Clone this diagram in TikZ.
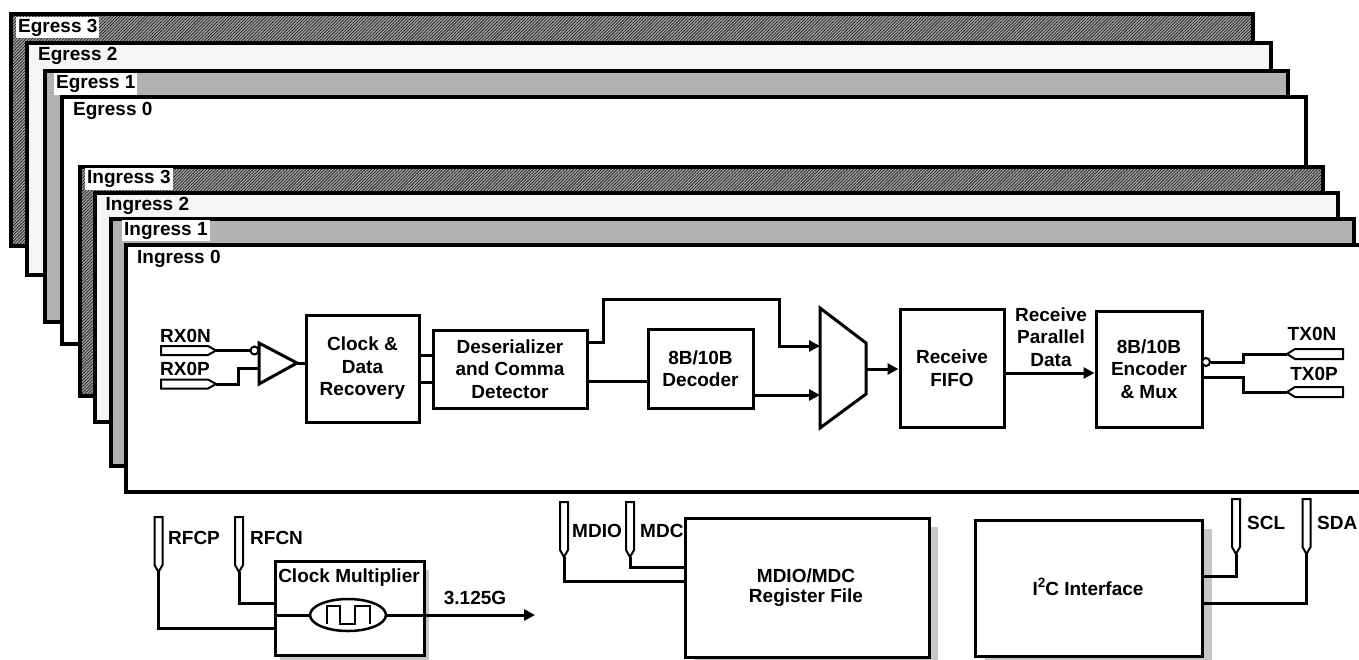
\documentclass[tikz,border=0pt]{standalone}
\usepackage{fontspec}
\setmainfont{Liberation Sans}
\usetikzlibrary{arrows.meta,patterns.meta,shapes.geometric,calc}
\begin{document}
\begin{tikzpicture}[x=1pt,y=-1pt,
  frame/.style={draw=black,line width=3.5pt},
  hatch/.style={pattern={Lines[angle=45,distance=2.2pt,line width=0.8pt]},pattern color=black!85},
  flab/.style={anchor=west,inner sep=2pt,font=\bfseries\fontsize{19}{22}\selectfont},
  txt/.style={font=\bfseries\fontsize{19}{22.5}\selectfont,align=center,inner sep=0pt},
  blk/.style={draw,line width=3pt,fill=white,font=\bfseries\fontsize{19}{22.5}\selectfont,align=center,inner sep=0pt},
  wire/.style={line width=3pt},
  arr/.style={line width=3pt,-{Triangle[length=11pt,width=11pt]}},
  pin/.style={draw,line width=2pt,fill=white},
  bub/.style={circle,draw,line width=2pt,fill=white,minimum size=8pt,inner sep=0pt},
  shadowbox/.style={fill=black!22},
  vpin/.pic={\draw[pin] (-4,0) -- (4,0) -- (4,48) -- (0,55) -- (-4,48) -- cycle; \coordinate (-tip) at (0,55);}
]
\useasboundingbox (0,0) rectangle (1359,659);

% ---------- stacked frames ----------
% Egress 3
\fill[black!35] (11,14) rectangle (1253,246);
\path[hatch] (11,14) rectangle (1253,246);
\draw[frame] (11,14) rectangle (1253,246);
\node[flab,fill=white] (e3) at (16,27.5) {Egress 3};
% Egress 2
\draw[frame,fill=black!4] (27,43) rectangle (1271,275);
\node[flab] (e2) at (36,55.5) {Egress 2};
% Egress 1
\draw[frame,fill=black!30] (45,71) rectangle (1288,322);
\node[flab,fill=white] (e1) at (54,84) {Egress 1};
% Egress 0
\draw[frame,fill=white] (62,97) rectangle (1306,344);
\node[flab] (e0) at (71,110.5) {Egress 0};
% Ingress 3
\fill[black!35] (80,167) rectangle (1323,396);
\path[hatch] (80,167) rectangle (1323,396);
\draw[frame] (80,167) rectangle (1323,396);
\node[flab,fill=white] (i3) at (85,179) {Ingress 3};
% Ingress 2
\draw[frame,fill=black!4] (95,193) rectangle (1338,422);
\node[flab] (i2) at (103.5,205.5) {Ingress 2};
% Ingress 1
\draw[frame,fill=black!30] (111,219) rectangle (1354,466);
\node[flab,fill=white] (i1) at (122,230.5) {Ingress 1};
% Ingress 0
\draw[frame,fill=white] (126,245) rectangle (1366,492);
\node[flab] (i0) at (135,259) {Ingress 0};

% ---------- receive path ----------
\coordinate (rxn) at (216,350.5);
\coordinate (rxp) at (216,384);
\coordinate (ampo) at (297,363);
\coordinate (ampp) at (259,368);
\coordinate (muxa) at (820,346);
\coordinate (muxb) at (820,395);
\coordinate (muxo) at (866,369);
\coordinate (txn) at (1287,354);
\coordinate (txp) at (1287,392);

\draw[pin] (161,346) -- (208,346) -- (216,350.5) -- (208,355) -- (161,355) -- cycle;
\draw[pin] (161,379.5) -- (208,379.5) -- (216,384) -- (208,388.5) -- (161,388.5) -- cycle;
\node[txt,anchor=west] (rxnl) at (160,336) {RX0N};
\node[txt,anchor=west] (rxpl) at (160,368.5) {RX0P};

\draw[line width=3pt,fill=white,line join=miter] (259,343) -- (297,363) -- (259,384) -- cycle;
\node[bub] (bubn) at (254.5,350.5) {};

\node[blk,minimum width=113pt,minimum height=107pt] (cdr) at (362.5,368.5) {Clock \&\\Data\\Recovery};
\node[blk,minimum width=154pt,minimum height=78pt] (des) at (510,369) {Deserializer\\and Comma\\Detector};
\node[blk,minimum width=105pt,minimum height=79pt] (dec) at (700.5,368.5) {8B/10B\\Decoder};
\draw[line width=3pt,fill=white] (820,308) -- (866,343) -- (866,394) -- (820,428) -- cycle;
\node[blk,minimum width=104pt,minimum height=118pt] (fifo) at (952,368) {Receive\\FIFO};
\node[blk,minimum width=106pt,minimum height=116pt] (enc) at (1149,369) {8B/10B\\Encoder\\\& Mux};
\node[txt] (rpd) at (1051,337) {Receive\\Parallel\\Data};
\node[bub] (bubt) at (1206,362) {};

\draw[pin] (1287,354) -- (1295,349) -- (1343,349) -- (1343,359) -- (1295,359) -- cycle;
\draw[pin] (1287,392) -- (1295,387) -- (1343,387) -- (1343,397) -- (1295,397) -- cycle;
\node[txt] (txnl) at (1312,334) {TX0N};
\node[txt] (txpl) at (1314,373.5) {TX0P};

\draw[wire] (rxn) -- (bubn.west);
\draw[wire] (rxp) -- ++(22,0) |- (ampp);
\draw[wire] (ampo) -- (ampo -| cdr.west);
\draw[wire] (cdr.east |- 0,355) -- (des.west |- 0,355);
\draw[wire] (cdr.east |- 0,382) -- (des.west |- 0,382);
\draw[arr] (des.east |- 0,342) -- ++(15,0) |- (779,299) |- (muxa);
\draw[wire] (des.east |- 0,381) -- (dec.west |- 0,381);
\draw[arr] (dec.east |- 0,395) -- (muxb);
\draw[arr] (muxo) -- (muxo -| fifo.west);
\draw[arr] (fifo.east |- 0,373) -- (enc.west |- 0,373);
\draw[wire] (bubt.east) -- (1243,362) |- (txn);
\draw[wire] (enc.east |- 0,377) -- (1243,377) |- (txp);

% ---------- clock multiplier ----------
\fill[shadowbox] (280,570) rectangle (429,664);
\node[blk,minimum width=149pt,minimum height=94pt] (cm) at (349.5,608) {};
\node[txt] (cmt) at (349,577.5) {Clock Multiplier};
\node[ellipse,draw,line width=2.5pt,fill=white,minimum width=76pt,minimum height=32pt,inner sep=0pt] (osc) at (348,615) {};
\draw[line width=2.5pt] (327,624) -- (327,606) -- (340,606) -- (340,624) -- (355,624) -- (355,606) -- (370,606) -- (370,624);
\coordinate (clk) at (535,615);
\node[txt] (clkl) at (475,598) {3.125G};
\draw[wire] (cm.west |- osc) -- (osc.west);
\draw[arr] (osc.east) -- (clk);

\pic (rfcp) at (158.5,517) {vpin};
\pic (rfcn) at (239,517) {vpin};
\node[txt,anchor=west] (rfcpl) at (168,538) {RFCP};
\node[txt,anchor=west] (rfcnl) at (250,538) {RFCN};
\draw[wire] (rfcp-tip) |- (cm.west |- 0,628);
\draw[wire] (rfcn-tip) |- (cm.west |- 0,603);

% ---------- MDIO ----------
\fill[shadowbox] (694,527) rectangle (938,666);
\node[blk,minimum width=244pt,minimum height=139pt] (mdio) at (807,587.5) {};
\node[txt,font=\bfseries\fontsize{19}{20}\selectfont] (mdiot) at (806,588) {MDIO/MDC\\Register File};
\pic (pmdio) at (564,502) {vpin};
\pic (pmdc) at (630,502) {vpin};
\node[txt,anchor=west] (mdiol) at (572,531) {MDIO};
\node[txt,anchor=west] (mdcl) at (640,531) {MDC};
\draw[wire] (pmdio-tip) |- (mdio.west |- 0,581);
\draw[wire] (pmdc-tip) |- (mdio.west |- 0,567);

% ---------- I2C ----------
\fill[shadowbox] (985,529) rectangle (1212,665);
\node[blk,minimum width=227pt,minimum height=136pt] (i2c) at (1088.5,588) {};
\node[txt,anchor=base] (i2ct) at (1088,595) {I\raisebox{0.42em}{\fontsize{13.5}{13.5}\selectfont 2}C Interface};
\pic (pscl) at (1236,499) {vpin};
\pic (psda) at (1306.5,499) {vpin};
\node[txt,anchor=west] (scll) at (1247,523) {SCL};
\node[txt,anchor=west] (sdal) at (1317,523) {SDA};
\draw[wire] (pscl-tip) |- (i2c.east |- 0,576);
\draw[wire] (psda-tip) |- (i2c.east |- 0,603);
\end{tikzpicture}
\end{document}
